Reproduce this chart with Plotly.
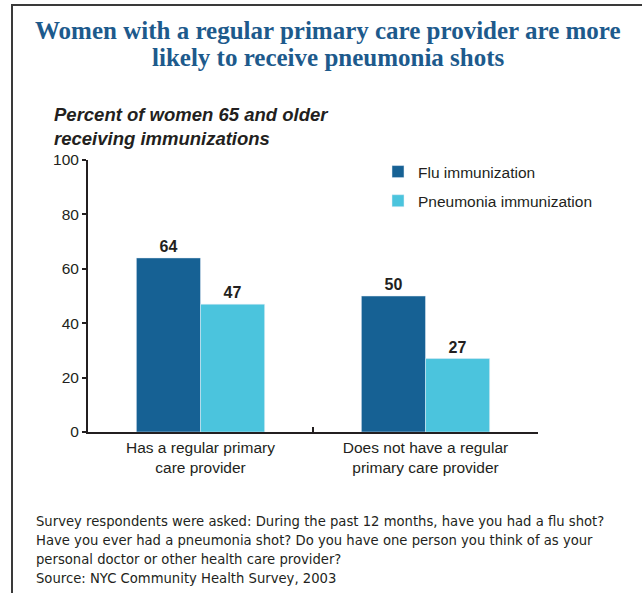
import plotly.graph_objects as go

categories = ["Has a regular primary<br>care provider", "Does not have a regular<br>primary care provider"]
flu_values = [64, 50]
pneumonia_values = [47, 27]
series_names = ["Flu immunization", "Pneumonia immunization"]
y_ticks = [0, 20, 40, 60, 80, 100]
title_lines = ["Women with a regular primary care provider are more", "likely to receive pneumonia shots"]
y_title = "Percent of women 65 and older<br>receiving immunizations"
footnote_lines = [
    "Survey respondents were asked: During the past 12 months, have you had a flu shot?",
    "Have you ever had a pneumonia shot? Do you have one person you think of as your",
    "personal doctor or other health care provider?",
    "Source: NYC Community Health Survey, 2003",
]

W, H = 642, 593
L, R, T, B = 88, 538, 160, 432
TXT = "#231f20"


def px(x):
    return (x - L) / (R - L)


def py(y):
    return (B - y) / (B - T)


label_font = dict(family="Liberation Sans, Arial", size=16, color=TXT, weight="bold")

fig = go.Figure()
fig.add_trace(go.Bar(
    x=categories, y=flu_values, name=series_names[0], marker_color="#166194",
    text=flu_values, textposition="outside", cliponaxis=False, textfont=label_font,
    legendgroup="a",
))
fig.add_trace(go.Bar(
    x=categories, y=pneumonia_values, name=series_names[1], marker_color="#4bc4dd",
    text=pneumonia_values, textposition="outside", cliponaxis=False, textfont=label_font,
    legendgroup="b",
))

annotations = []
for i, line in enumerate(title_lines):
    annotations.append(dict(text="<b>" + line + "</b>", x=px(328), y=py(31 + i * 26),
                            xref="paper", yref="paper", xanchor="center", yanchor="middle",
                            showarrow=False,
                            font=dict(family="Liberation Serif, Times New Roman, serif",
                                      size=25, color="#1d5a8c")))
annotations.append(dict(text="<b><i>" + y_title + "</i></b>", x=px(52), y=py(126),
                        xref="paper", yref="paper", xanchor="left", yanchor="middle",
                        align="left", showarrow=False,
                        font=dict(family="Liberation Sans, Arial", size=18.5, color=TXT)))
for i, line in enumerate(footnote_lines):
    annotations.append(dict(text=line, x=px(34), y=py(521 + i * 19.3), xref="paper", yref="paper",
                            xanchor="left", yanchor="middle", showarrow=False,
                            font=dict(family="DejaVu Sans", size=13.2, color=TXT)))

shapes = [
    dict(type="line", xref="paper", yref="paper", x0=px(11), x1=px(642), y0=py(5), y1=py(5),
         line=dict(color="#3a3a3a", width=2), layer="above"),
    dict(type="line", xref="paper", yref="paper", x0=px(12), x1=px(12), y0=py(4), y1=py(593),
         line=dict(color="#3a3a3a", width=2), layer="above"),
]

fig.update_layout(
    width=W, height=H,
    margin=dict(l=L, r=W - R, t=T, b=H - B, pad=0),
    paper_bgcolor="white", plot_bgcolor="white",
    barmode="group", bargap=0.43, bargroupgap=0,
    font=dict(family="Liberation Sans, Arial", size=15.5, color=TXT),
    showlegend=True,
    legend=dict(x=px(378), y=py(155), xanchor="left", yanchor="top",
                font=dict(size=15.5, color=TXT), traceorder="grouped", tracegroupgap=6,
                bgcolor="rgba(0,0,0,0)", itemwidth=30),
    annotations=annotations,
    shapes=shapes,
)
fig.update_yaxes(range=[0, 100], tickvals=y_ticks, showgrid=False, zeroline=False,
                 showline=True, linecolor=TXT, linewidth=2, ticks="outside", ticklen=4,
                 tickwidth=2, tickcolor=TXT, tickfont=dict(size=15.5, color=TXT))
fig.update_xaxes(showgrid=False, showline=True, linecolor=TXT, linewidth=2,
                 ticks="inside", tickson="boundaries", ticklen=5, tickwidth=2, tickcolor=TXT,
                 tickfont=dict(size=15.5, color=TXT))

fig.write_html("out.html", config={"displayModeBar": False},
               post_script="document.body.style.margin='0';document.body.style.padding='0';")
